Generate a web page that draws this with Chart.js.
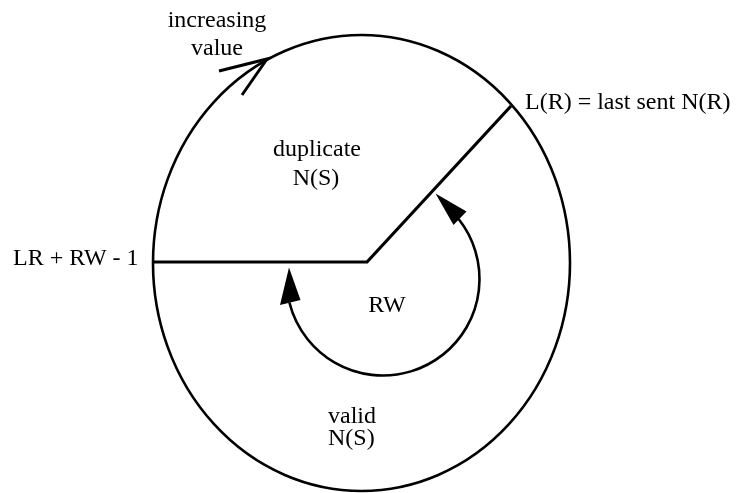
<!DOCTYPE html>
<html>
<head>
<meta charset="utf-8">
<script src="https://cdn.jsdelivr.net/npm/chart.js@4/dist/chart.umd.min.js"></script>
<style>
  html, body { margin: 0; padding: 0; background: #ffffff; }
  #wrap { width: 736px; height: 493px; position: relative; }
</style>
</head>
<body>
<div id="wrap"><canvas id="c"></canvas></div>
<script>
// ---- diagram data (coordinates in the diagram's own units) ----
// straight boundaries: "LR + RW - 1" end -> centre -> "L(R)" end
const boundaryX = [153, 367, 511];
const boundaryY = [262, 262, 106];
// open arrow on the outer ring ("increasing value")
const ringArrowX = [219, 267, 242];
const ringArrowY = [71, 59, 95];
// outer sequence-number ring: centre x, centre y, radius x, radius y
const ring = [361.5, 263, 208.5, 228];
// receive-window arc: centre x, centre y, radius, start deg, end deg
const windowArc = [383, 279, 96.5, -38.4, 165.9];
// filled arrowheads at both ends of the window arc: tip, base corner, base corner
const headTopX = [435.5, 453.5, 466.5];
const headTopY = [193.5, 225, 211.5];
const headLeftX = [289, 280, 300.5];
const headLeftY = [267.5, 305, 300];
// text labels
const labelText = ["increasing", "value", "L(R) = last sent N(R)", "LR + RW - 1",
                   "duplicate", "N(S)", "RW", "valid", "N(S)"];
const labelX = [217, 217, 525, 13, 317, 316, 387, 328, 328];
const labelY = [26.5, 55, 108.5, 264.5, 156, 185, 311.5, 423, 445];
const labelAlign = ["center", "center", "left", "left", "center", "center", "center", "left", "left"];

const pts = (xs, ys) => xs.map((x, i) => ({ x: x, y: ys[i] }));

const diagramPlugin = {
  id: 'diagram',
  afterDatasetsDraw(chart) {
    const ctx = chart.ctx;
    const sx = chart.scales.x, sy = chart.scales.y;
    const px = v => sx.getPixelForValue(v);
    const py = v => sy.getPixelForValue(v);
    const dx = d => Math.abs(sx.getPixelForValue(d) - sx.getPixelForValue(0));
    const dy = d => Math.abs(sy.getPixelForValue(d) - sy.getPixelForValue(0));
    ctx.save();
    ctx.strokeStyle = '#000';
    ctx.fillStyle = '#000';
    // outer ring
    ctx.lineWidth = 2.6;
    ctx.beginPath();
    ctx.ellipse(px(ring[0]), py(ring[1]), dx(ring[2]), dy(ring[3]), 0, 0, Math.PI * 2);
    ctx.stroke();
    // window arc
    ctx.lineWidth = 2.6;
    ctx.beginPath();
    ctx.ellipse(px(windowArc[0]), py(windowArc[1]), dx(windowArc[2]), dy(windowArc[2]), 0,
      windowArc[3] * Math.PI / 180, windowArc[4] * Math.PI / 180);
    ctx.stroke();
    // arrowheads
    [[headTopX, headTopY], [headLeftX, headLeftY]].forEach(([hx, hy]) => {
      ctx.beginPath();
      ctx.moveTo(px(hx[0]), py(hy[0]));
      ctx.lineTo(px(hx[1]), py(hy[1]));
      ctx.lineTo(px(hx[2]), py(hy[2]));
      ctx.closePath();
      ctx.fill();
    });
    // labels
    ctx.font = '24px "Liberation Serif", "Times New Roman", serif';
    ctx.textBaseline = 'alphabetic';
    labelText.forEach((t, i) => {
      ctx.textAlign = labelAlign[i];
      ctx.fillText(t, px(labelX[i]), py(labelY[i]));
    });
    ctx.restore();
  }
};

new Chart(document.getElementById('c'), {
  type: 'scatter',
  data: {
    datasets: [
      {
        data: pts(boundaryX, boundaryY),
        showLine: true,
        borderColor: '#000',
        borderWidth: 3.2,
        pointRadius: 0,
        fill: false,
        tension: 0
      },
      {
        data: pts(ringArrowX, ringArrowY),
        showLine: true,
        borderColor: '#000',
        borderWidth: 3,
        pointRadius: 0,
        fill: false,
        tension: 0
      }
    ]
  },
  options: {
    responsive: true,
    maintainAspectRatio: false,
    animation: false,
    layout: { padding: 0 },
    plugins: { legend: { display: false }, tooltip: { enabled: false } },
    scales: {
      x: { type: 'linear', min: 0, max: 736, display: false },
      y: { type: 'linear', min: 0, max: 493, reverse: true, display: false }
    }
  },
  plugins: [diagramPlugin]
});
</script>
</body>
</html>
